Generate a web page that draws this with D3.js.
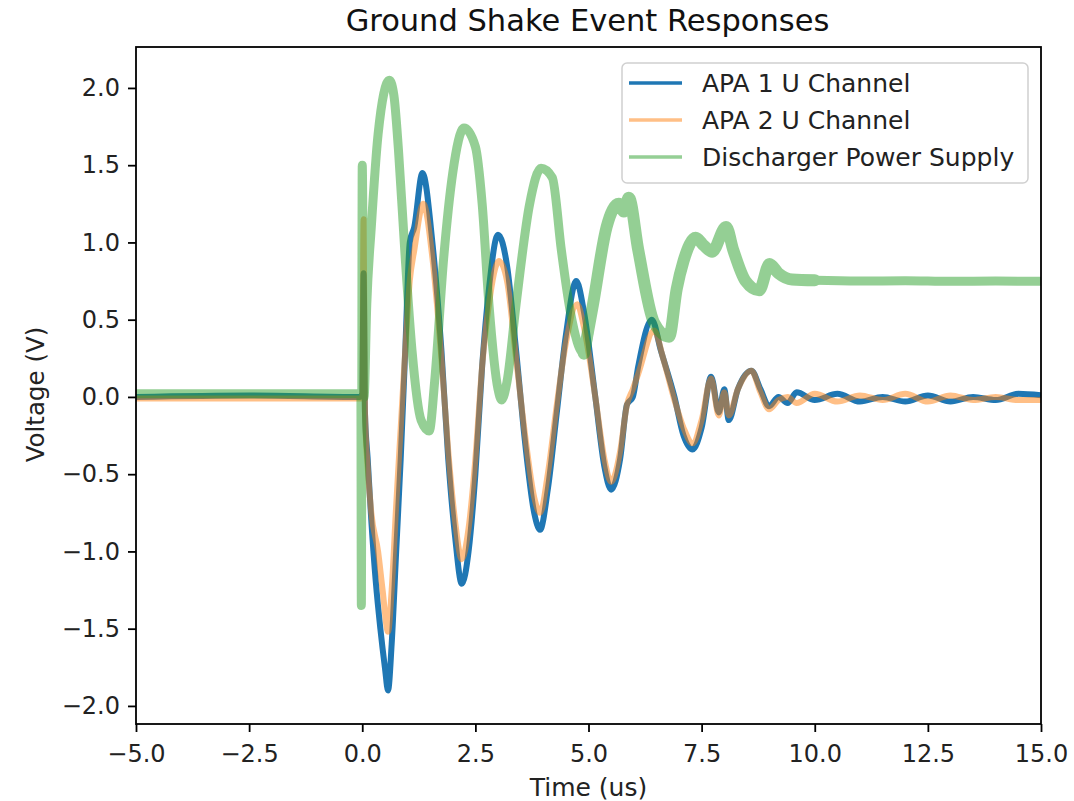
<!DOCTYPE html>
<html>
<head>
<meta charset="utf-8">
<script src="https://cdn.jsdelivr.net/npm/d3@7"></script>
<style>
  html, body { margin: 0; padding: 0; background: #fff; }
  svg { display: block; font-family: "DejaVu Sans", sans-serif; }
</style>
</head>
<body>
<svg id="chart" width="1074" height="801"></svg>
<script>
// ---- Data ----
const chartTitle = "Ground Shake Event Responses";
const xLabel = "Time (us)";
const yLabel = "Voltage (V)";
const seriesNames = ["APA 1 U Channel", "APA 2 U Channel", "Discharger Power Supply"];
const xTicks = [-5, -2.5, 0, 2.5, 5, 7.5, 10, 12.5, 15];
const yTicks = [-2, -1.5, -1, -0.5, 0, 0.5, 1, 1.5, 2];

// APA 1 U Channel: [time (us), voltage (V)]
const apa1 = [
  [-5, 0.0], [-2.5, 0.01], [-0.05, 0.0], [0.0, 0.02], [0.03, 0.8], [0.06, -0.1],
  [0.12, -0.4], [0.2, -0.8], [0.3, -1.2], [0.4, -1.5], [0.5, -1.75], [0.57, -1.9],
  [0.65, -1.6], [0.75, -1.0], [0.85, -0.4], [0.95, 0.3], [1.05, 1.0], [1.15, 1.1],
  [1.33, 1.45], [1.55, 1.0], [1.75, 0.3], [1.9, -0.4], [2.05, -0.9], [2.2, -1.21],
  [2.35, -1.0], [2.5, -0.5], [2.65, 0.2], [2.8, 0.7], [3.0, 1.05], [3.2, 0.85],
  [3.4, 0.3], [3.6, -0.3], [3.8, -0.75], [3.93, -0.86], [4.1, -0.6], [4.3, -0.1],
  [4.5, 0.4], [4.73, 0.75], [4.9, 0.55], [5.15, 0.0], [5.35, -0.45], [5.5, -0.6],
  [5.7, -0.4], [5.85, -0.05], [5.98, 0.0], [6.1, 0.2], [6.4, 0.5], [6.6, 0.3],
  [6.9, 0.0], [7.1, -0.25], [7.3, -0.34], [7.5, -0.2], [7.71, 0.13], [7.88, -0.1],
  [8.0, 0.05], [8.1, -0.15], [8.3, 0.05], [8.6, 0.17], [8.8, 0.05], [8.99, -0.06],
  [9.2, 0.0], [9.4, -0.04], [9.6, 0.03], [10.0, -0.02], [10.5, 0.02], [11.0, -0.03],
  [11.5, 0.0], [12.0, -0.03], [12.5, 0.01], [13.0, -0.03], [13.5, 0.0], [14.0, -0.02],
  [14.5, 0.02], [15.0, 0.01]
];

// APA 2 U Channel
const apa2 = [
  [-5, -0.01], [-2.5, -0.01], [-0.05, -0.01], [0.0, 0.0], [0.03, 1.15], [0.06, -0.1],
  [0.12, -0.45], [0.2, -0.75], [0.35, -1.0], [0.45, -1.25], [0.57, -1.52], [0.65, -1.25],
  [0.75, -0.7], [0.85, -0.2], [0.95, 0.3], [1.05, 0.75], [1.15, 0.95], [1.35, 1.25],
  [1.55, 0.9], [1.75, 0.25], [1.9, -0.35], [2.05, -0.8], [2.2, -1.05], [2.35, -0.85],
  [2.5, -0.4], [2.65, 0.2], [2.8, 0.6], [3.02, 0.88], [3.2, 0.75], [3.4, 0.25],
  [3.6, -0.25], [3.8, -0.65], [3.93, -0.75], [4.1, -0.5], [4.3, -0.05], [4.5, 0.35],
  [4.75, 0.6], [4.9, 0.45], [5.15, 0.0], [5.35, -0.4], [5.5, -0.55], [5.7, -0.35],
  [5.85, -0.05], [5.98, 0.05], [6.1, 0.15], [6.45, 0.43], [6.65, 0.25], [6.9, -0.02],
  [7.1, -0.2], [7.3, -0.3], [7.5, -0.15], [7.71, 0.12], [7.88, -0.12], [8.0, 0.03],
  [8.1, -0.12], [8.3, 0.05], [8.6, 0.17], [8.8, 0.03], [8.99, -0.08], [9.2, -0.02],
  [9.4, 0.0], [9.6, -0.04], [10.0, 0.02], [10.5, -0.03], [11.0, 0.01], [11.5, -0.02],
  [12.0, 0.02], [12.5, -0.03], [13.0, 0.01], [13.5, -0.02], [14.0, 0.0], [14.5, -0.02],
  [15.0, -0.02]
];

// Discharger Power Supply
const discharger = [
  [-5, 0.02], [-2.5, 0.02], [-0.05, 0.02], [-0.03, 0.02], [-0.02, -1.35], [0.0, 1.5],
  [0.04, 0.0], [0.1, 0.6], [0.2, 1.1], [0.35, 1.7], [0.6, 2.05], [0.7, 1.95],
  [0.8, 1.6], [0.95, 0.9], [1.1, 0.3], [1.3, -0.15], [1.48, -0.22], [1.6, 0.1],
  [1.8, 0.9], [2.0, 1.45], [2.25, 1.74], [2.5, 1.62], [2.65, 1.25], [2.8, 0.6],
  [3.0, 0.05], [3.08, -0.02], [3.2, 0.1], [3.4, 0.6], [3.7, 1.25], [3.95, 1.48],
  [4.2, 1.42], [4.4, 0.95], [4.6, 0.55], [4.9, 0.28], [5.1, 0.6], [5.4, 1.1],
  [5.67, 1.25], [5.78, 1.2], [5.89, 1.29], [6.1, 0.95], [6.45, 0.48], [6.78, 0.39],
  [6.95, 0.7], [7.1, 0.88], [7.37, 1.03], [7.55, 0.98], [7.73, 0.94], [8.04, 1.1],
  [8.2, 0.95], [8.47, 0.75], [8.77, 0.69], [9.0, 0.86], [9.2, 0.8], [9.5, 0.76],
  [10.0, 0.755], [11.0, 0.75], [12.0, 0.752], [13.0, 0.748], [14.0, 0.75], [15.0, 0.748]
];
// time window where the discharger trace shows a wider noise band
const dischargerNoisyWindow = [4.9, 10.0];

const colors = ["#1f77b4", "#ff7f0e", "#2ca02c"];
const alphas = [1, 0.5, 0.5];

// ---- Layout ----
const L = 136, R = 1041, T = 47, B = 724;

const svg = d3.select("#chart");
const x = d3.scaleLinear().domain([-5, 15]).range([L, R]);
const y = d3.scaleLinear().domain([-2.117, 2.265]).range([B, T]);

svg.append("defs").append("clipPath").attr("id", "clip")
  .append("rect").attr("x", L).attr("y", T).attr("width", R - L).attr("height", B - T);

const line = d3.line().x(d => x(d[0])).y(d => y(d[1])).curve(d3.curveMonotoneX);

const allSeries = [apa1, apa2, discharger];
const widths = [6, 6, 9];
const plot = svg.append("g").attr("clip-path", "url(#clip)");
allSeries.forEach((s, i) => {
  const g = plot.append("g").attr("opacity", alphas[i]);
  g.append("path")
    .attr("d", line(s))
    .attr("fill", "none")
    .attr("stroke", colors[i])
    .attr("stroke-width", widths[i])
    .attr("stroke-linejoin", "round");
  if (i === 2) {
    const seg = s.filter(d => d[0] >= dischargerNoisyWindow[0] && d[0] <= dischargerNoisyWindow[1]);
    g.append("path")
      .attr("d", line(seg))
      .attr("fill", "none")
      .attr("stroke", colors[i])
      .attr("stroke-width", 12)
      .attr("stroke-linejoin", "round")
      .attr("stroke-linecap", "round");
  }
});

// axes
const fmt = d3.format(".1f");
const xAxis = d3.axisBottom(x).tickValues(xTicks).tickFormat(fmt).tickSize(8).tickPadding(8);
const yAxis = d3.axisLeft(y).tickValues(yTicks).tickFormat(fmt).tickSize(8).tickPadding(8);

const gx = svg.append("g").attr("transform", `translate(0,${B})`).call(xAxis);
const gy = svg.append("g").attr("transform", `translate(${L},0)`).call(yAxis);
[gx, gy].forEach(g => {
  g.select(".domain").remove();
  g.selectAll(".tick line").attr("stroke", "#000").attr("stroke-width", 1.8);
  g.selectAll(".tick text").attr("fill", "#222").attr("font-size", 24)
    .attr("font-family", "DejaVu Sans");
});
gx.selectAll(".tick text").attr("dy", "0.9em");

// spines
svg.append("rect").attr("x", L).attr("y", T).attr("width", R - L).attr("height", B - T)
  .attr("fill", "none").attr("stroke", "#000").attr("stroke-width", 1.8);

// title & labels
svg.append("text").attr("x", (L + R) / 2 - 1).attr("y", 31).attr("text-anchor", "middle")
  .attr("font-size", 30.5).attr("fill", "#111").text(chartTitle);
svg.append("text").attr("x", (L + R) / 2).attr("y", 796).attr("text-anchor", "middle")
  .attr("font-size", 25).attr("fill", "#222").text(xLabel);
svg.append("text").attr("transform", `translate(44,${(T + B) / 2 + 9}) rotate(-90)`)
  .attr("text-anchor", "middle").attr("font-size", 24.5).attr("fill", "#222").text(yLabel);

// legend
const lg = svg.append("g");
lg.append("rect").attr("x", 622).attr("y", 63).attr("width", 406).attr("height", 120)
  .attr("rx", 5).attr("fill", "#fff").attr("fill-opacity", 0.8)
  .attr("stroke", "#d0d0d0").attr("stroke-width", 1.5);
seriesNames.forEach((name, i) => {
  const cy = 83 + i * 37;
  lg.append("line").attr("x1", 629).attr("x2", 682).attr("y1", cy).attr("y2", cy)
    .attr("stroke", colors[i]).attr("stroke-opacity", alphas[i]).attr("stroke-width", 3.5);
  lg.append("text").attr("x", 702).attr("y", cy).attr("dy", "0.35em")
    .attr("font-size", 25).attr("fill", "#222").text(name);
});
</script>
</body>
</html>
